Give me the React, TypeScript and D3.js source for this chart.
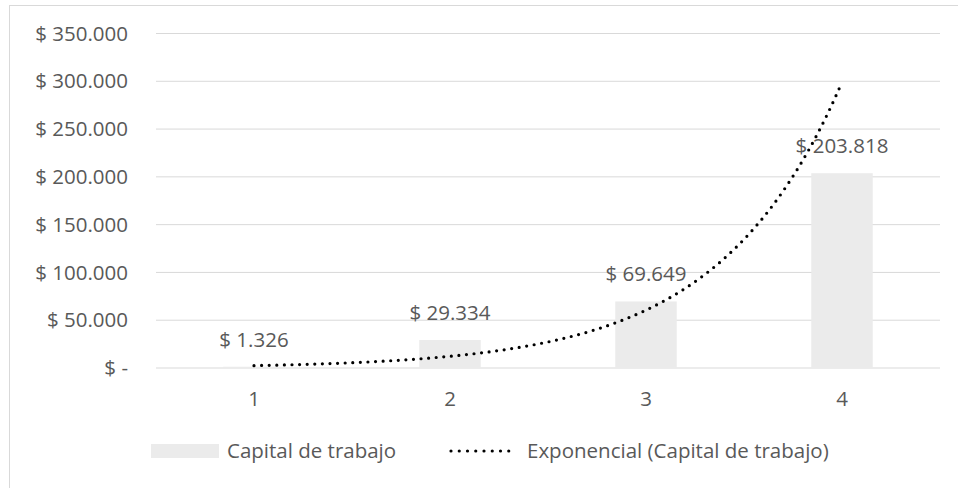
import React from "react";
import * as d3 from "d3";

const categories = ["1", "2", "3", "4"];
const values = [1326, 29334, 69649, 203818];
const yTicks = [0, 50000, 100000, 150000, 200000, 250000, 300000, 350000];
const seriesName = "Capital de trabajo";
const trendName = "Exponencial (Capital de trabajo)";

const W = 958;
const H = 488;
const FONT = "'Open Sans', 'Noto Sans', sans-serif";
const FS = 20.5;
const TEXT = "#595959";
const GRID = "#d9d9d9";
const BAR = "#ebebeb";

const fmt = (v: number) => {
  if (v === 0) return "$ -";
  return "$ " + d3.format(",")(v).replace(/,/g, ".");
};

// Least-squares exponential fit y = a * e^(b x), as Excel's trendline
function expFit(xs: number[], ys: number[]) {
  const ly = ys.map((y) => Math.log(y));
  const mx = d3.mean(xs)!;
  const my = d3.mean(ly)!;
  const b =
    d3.sum(xs, (x, i) => (x - mx) * (ly[i] - my)) /
    d3.sum(xs, (x) => (x - mx) * (x - mx));
  const a = Math.exp(my - b * mx);
  return (x: number) => a * Math.exp(b * x);
}

export default function App() {
  const plotLeft = 156;
  const plotRight = 940;
  const plotTop = 33.5;
  const plotBottom = 368;

  const x = d3.scaleBand<string>().domain(categories).range([plotLeft, plotRight]).paddingInner(0.6865).paddingOuter(0.34325);
  const y = d3.scaleLinear().domain([0, 350000]).range([plotBottom, plotTop]);

  const xs = categories.map((_, i) => i + 1);
  const fit = expFit(xs, values);
  const xNum = d3
    .scaleLinear()
    .domain([1, 4])
    .range([x(categories[0])! + x.bandwidth() / 2, x(categories[3])! + x.bandwidth() / 2]);
  const samples = d3.range(1, 4.0001, 0.02);
  const line = d3
    .line<number>()
    .x((d) => xNum(d))
    .y((d) => y(fit(d)))
    .curve(d3.curveLinear);

  return (
    <svg
      width={W}
      height={H}
      style={{ position: "absolute", left: 0, top: 0, background: "#fff" }}
      fontFamily={FONT}
    >
      <rect x={9.5} y={5.5} width={960} height={500} fill="#fff" stroke={GRID} strokeWidth={1} />
      {yTicks.map((t) => (
        <g key={t}>
          <line x1={plotLeft} x2={plotRight} y1={y(t)} y2={y(t)} stroke={GRID} strokeWidth={1} />
          <text x={128} y={y(t)} dy="0.35em" textAnchor="end" fontSize={FS} fill={TEXT}>
            {fmt(t)}
          </text>
        </g>
      ))}
      {categories.map((c, i) => (
        <g key={c}>
          <rect
            x={x(c)!}
            y={y(values[i])}
            width={x.bandwidth()}
            height={plotBottom - y(values[i])}
            fill={BAR}
          />
          <text
            x={x(c)! + x.bandwidth() / 2}
            y={y(values[i]) - 20}
            textAnchor="middle"
            fontSize={FS}
            fill={TEXT}
          >
            {fmt(values[i])}
          </text>
          <text x={x(c)! + x.bandwidth() / 2} y={406} textAnchor="middle" fontSize={FS} fill={TEXT}>
            {c}
          </text>
        </g>
      ))}
      <path
        d={line(samples) || ""}
        fill="none"
        stroke="#000"
        strokeWidth={3.2}
        strokeDasharray="0 7.6"
        strokeLinecap="round"
      />
      <g>
        <rect x={151} y={444} width={68} height={14} fill={BAR} />
        <text x={227} y={451} dy="0.35em" fontSize={FS} fill={TEXT}>
          {seriesName}
        </text>
        <line
          x1={451}
          x2={517}
          y1={451}
          y2={451}
          stroke="#000"
          strokeWidth={3.2}
          strokeDasharray="0 8.25"
          strokeLinecap="round"
        />
        <text x={527} y={451} dy="0.35em" fontSize={FS} fill={TEXT}>
          {trendName}
        </text>
      </g>
    </svg>
  );
}
